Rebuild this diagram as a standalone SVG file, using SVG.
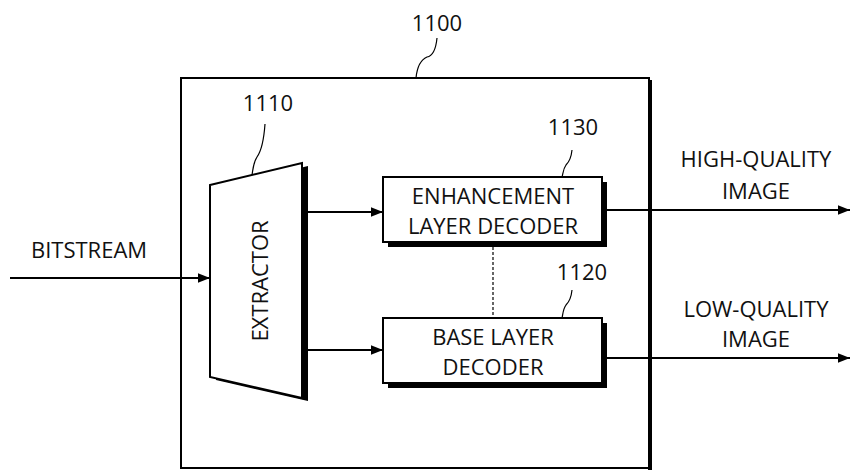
<svg xmlns="http://www.w3.org/2000/svg" width="851" height="472" viewBox="0 0 851 472">
<style>
text{font-family:"Open Sans","Liberation Sans",sans-serif;font-size:22px;fill:#111;text-anchor:middle}
.bt{font-size:22px}
.box{fill:#fff;stroke:#000;stroke-width:2}
.sh{fill:#000}
.ln{stroke:#000;stroke-width:2;fill:none}
.ld{stroke:#000;stroke-width:1.2;fill:none}
.dash{stroke:#000;stroke-width:1.2;stroke-dasharray:3,2;fill:none}
</style>
<defs>
<marker id="ah" viewBox="0 0 10 10" refX="10" refY="5" markerWidth="12" markerHeight="12" markerUnits="userSpaceOnUse" orient="auto">
<path d="M0,1 L10,5 L0,9 Z" fill="#000"/>
</marker>
</defs>
<g id="n1100">
<rect x="181" y="78" width="468" height="390" class="box"/>
<rect x="648" y="80" width="4" height="390" class="sh"/>
<text x="437" y="31">1100</text>
<path d="M437,38 C436,48 433,56 427,57 C420,60 417,68 416,78" class="ld"/>
</g>
<g id="n1110">
<path d="M216,188 L308,166 L308,401 L216,380 Z" class="sh"/>
<path d="M210,185 L302,163 L302,398 L210,377 Z" class="box"/>
<text class="bt" transform="translate(268,281) rotate(-90)">EXTRACTOR</text>
<text x="268" y="111">1110</text>
<path d="M265,124 C264,138 262,150 257,157 C253,163 253,170 252,175" class="ld"/>
</g>
<g id="n1130">
<rect x="388" y="182" width="219" height="65" class="sh"/>
<rect x="383" y="177" width="219" height="65" class="box"/>
<text class="bt" x="493" y="204">ENHANCEMENT</text>
<text class="bt" x="493" y="234">LAYER DECODER</text>
<text x="573" y="135">1130</text>
<path d="M572,150 C571,160 568,163 566,165 C563,169 563,174 562,177" class="ld"/>
</g>
<g id="n1120">
<rect x="388" y="323" width="219" height="65" class="sh"/>
<rect x="383" y="318" width="219" height="65" class="box"/>
<text class="bt" x="493" y="345">BASE LAYER</text>
<text class="bt" x="493" y="375">DECODER</text>
<text x="582" y="280">1120</text>
<path d="M572,290 C571,300 568,303 566,305 C563,309 563,314 562,318" class="ld"/>
</g>
<g id="labels">
<text x="89" y="258">BITSTREAM</text>
<text x="756" y="167">HIGH-QUALITY</text>
<text x="756" y="199">IMAGE</text>
<text x="756" y="317">LOW-QUALITY</text>
<text x="756" y="347">IMAGE</text>
</g>
<g id="connectors">
<line x1="10" y1="278" x2="210" y2="278" class="ln" marker-end="url(#ah)"/>
<line x1="308" y1="212" x2="383" y2="212" class="ln" marker-end="url(#ah)"/>
<line x1="308" y1="350" x2="383" y2="350" class="ln" marker-end="url(#ah)"/>
<line x1="607" y1="210" x2="850" y2="210" class="ln" marker-end="url(#ah)"/>
<line x1="607" y1="358" x2="850" y2="358" class="ln" marker-end="url(#ah)"/>
<line x1="493" y1="247" x2="493" y2="318" class="dash"/>
</g>
</svg>
